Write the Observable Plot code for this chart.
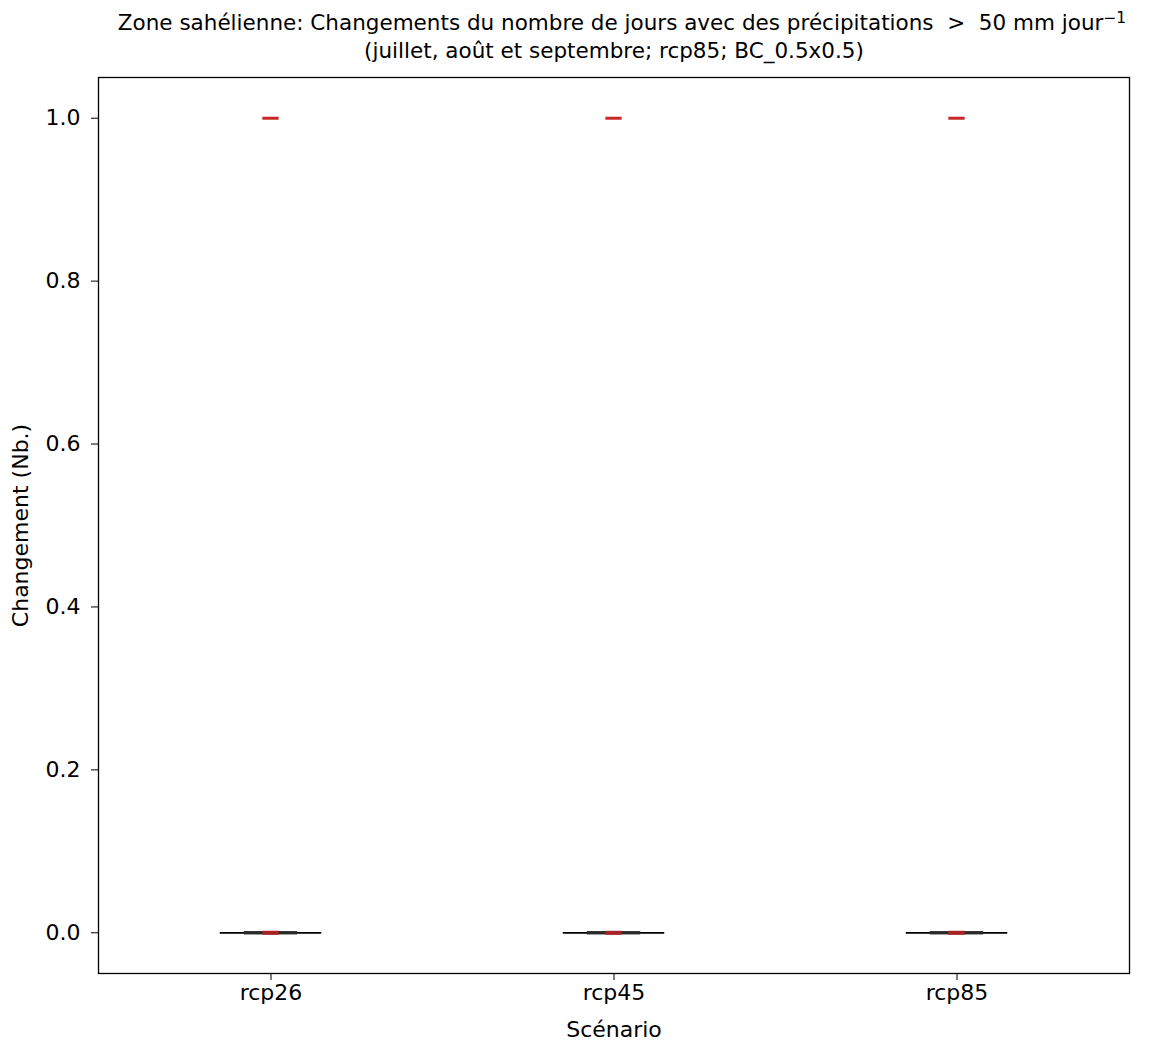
<!DOCTYPE html>
<html><head><meta charset="utf-8">
<script src="https://cdn.jsdelivr.net/npm/d3@7"></script>
<script src="https://cdn.jsdelivr.net/npm/@observablehq/plot@0.6"></script>
<style>body{margin:0;background:#fff;font-family:"DejaVu Sans",sans-serif;}</style>
</head><body><div id="chart"></div>
<script>
const scenarios = ["rcp26", "rcp45", "rcp85"];
const medians = [0, 0, 0];
const q1 = [0, 0, 0];
const q3 = [0, 0, 0];
const whiskerLow = [0, 0, 0];
const whiskerHigh = [0, 0, 0];
const outliers = [1, 1, 1];
const yTicks = [0, 0.2, 0.4, 0.6, 0.8, 1.0];
const titleLines = [
  "Zone sahélienne: Changements du nombre de jours avec des précipitations  >  50 mm jour⁻¹",
  "(juillet, août et septembre; rcp85; BC_0.5x0.5)"
];

const stats = scenarios.map((s, i) => ({s, med: medians[i], q1: q1[i], q3: q3[i], lo: whiskerLow[i], hi: whiskerHigh[i], out: outliers[i]}));

const bw = 343.7;
const ins = w => ({insetLeft: (bw - w) / 2, insetRight: (bw - w) / 2});
const chart = Plot.plot({
  width: 1154, height: 1043,
  marginTop: 77, marginLeft: 98, marginRight: 25, marginBottom: 70,
  style: {fontFamily: "DejaVu Sans, sans-serif", fontSize: "22px", color: "#000", background: "#fff"},
  x: {type: "band", domain: scenarios, padding: 0, label: "Scénario", labelAnchor: "center", labelOffset: 63, tickSize: 7, tickPadding: 4},
  y: {domain: [-0.05, 1.05], ticks: yTicks, tickFormat: d3.format(".1f"), label: "Changement (Nb.)", labelAnchor: "center", labelOffset: 86, labelArrow: "none", tickSize: 7, tickPadding: 11},
  marks: [
    Plot.frame({stroke: "#000", strokeWidth: 1.3}),
    // whiskers
    Plot.tickY(stats, {x: "s", y: "lo", stroke: "#000", strokeWidth: 1.6, ...ins(102)}),
    Plot.tickY(stats, {x: "s", y: "hi", stroke: "#000", strokeWidth: 1.6, ...ins(102)}),
    // box (flat)
    Plot.tickY(stats, {x: "s", y: "q1", stroke: "#2a2a2a", strokeWidth: 2.8, ...ins(54)}),
    Plot.tickY(stats, {x: "s", y: "q3", stroke: "#2a2a2a", strokeWidth: 2.8, ...ins(54)}),
    // median
    Plot.tickY(stats, {x: "s", y: "med", stroke: "#a82222", strokeWidth: 4, ...ins(17)}),
    // outliers
    Plot.tickY(stats, {x: "s", y: "out", stroke: "#c62828", strokeWidth: 3, ...ins(17)}),
    // title
    Plot.text([titleLines[0]], {text: d => d, frameAnchor: "top", lineAnchor: "middle", dy: -54, dx: 8, fontSize: 21.5, fill: "#000"}),
    Plot.text([titleLines[1]], {text: d => d, frameAnchor: "top", lineAnchor: "middle", dy: -26, fontSize: 21.5, fill: "#000"})
  ]
});
// render the exponent as a real superscript
d3.select(chart).selectAll("text").each(function() {
  const t = d3.select(this);
  const s = t.text();
  if (s.endsWith("jour⁻¹")) {
    t.text(s.slice(0, -2));
    t.append("tspan").attr("dy", "-0.45em").attr("font-size", "0.72em").text("−1");
  }
});
document.getElementById("chart").appendChild(chart);
</script></body></html>
